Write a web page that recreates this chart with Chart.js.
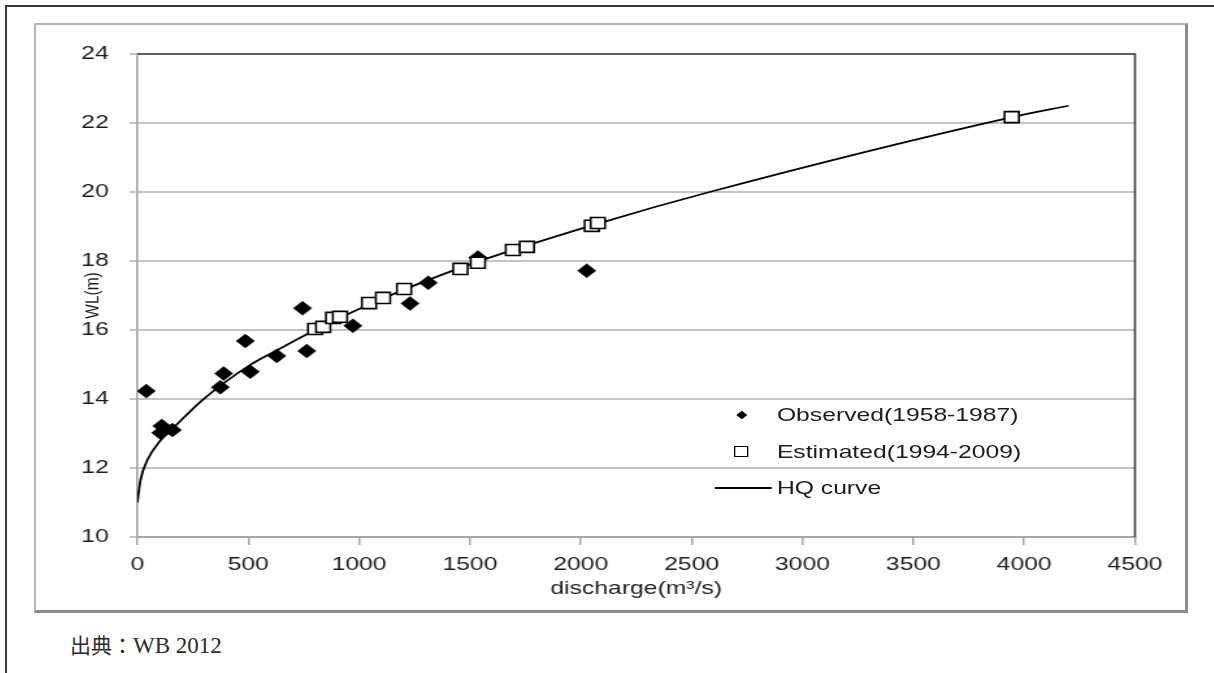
<!DOCTYPE html>
<html>
<head>
<meta charset="utf-8">
<title>HQ curve</title>
<script src="https://cdn.jsdelivr.net/npm/chart.js@4.4.1/dist/chart.umd.min.js"></script>
<style>
  html, body { margin: 0; padding: 0; background: #fff; }
  body { width: 1214px; height: 673px; position: relative; overflow: hidden; font-family: "Liberation Sans", Arial, sans-serif; }
  .page-top { position: absolute; left: 5px; top: 5px; width: 1209px; height: 2px; background: #3a3a3a; }
  .page-left { position: absolute; left: 5px; top: 5px; width: 2px; height: 668px; background: #3a3a3a; }
  .chart-box { position: absolute; left: 34px; top: 23px; width: 1154px; height: 590px; box-sizing: border-box;
    border-left: 2px solid #b4b4b4; border-top: 2px solid #b4b4b4; border-right: 3px solid #8c8c8c; border-bottom: 3px solid #8c8c8c; }
  /* the source picture is stretched sideways, so the chart is drawn narrow and widened */
  .stretch { position: absolute; left: 36px; top: 25px; width: 884px; height: 585px; transform: scaleX(1.2998); transform-origin: 0 0; }
  .stretch canvas { position: absolute; left: 0; top: 0; }
  .lg-text { position: absolute; left: 570px; font-size: 19px; line-height: 22px; color: #1c1c1c; white-space: nowrap; }
  .lg-diamond { position: absolute; left: 540px; top: 387px; width: 6px; height: 6px; background: #000; transform: rotate(45deg); }
  .lg-square { position: absolute; left: 537px; top: 421px; width: 9px; height: 9px; border: 1.5px solid #000; background: #fff; }
  .lg-line { position: absolute; left: 522px; top: 462px; width: 44px; height: 2px; background: #000; }
  .source { position: absolute; left: 70px; top: 632px; font-size: 21px; line-height: 24px; color: #2a2a2a; white-space: nowrap; }
  .source .cjk { font-family: "Noto Sans CJK JP", sans-serif; font-weight: 400; }
  .source .lat { font-family: "Liberation Serif", serif; font-size: 23px; }
</style>
</head>
<body>
<div class="page-top"></div>
<div class="page-left"></div>
<div class="chart-box"></div>
<div class="stretch">
  <canvas id="chartHQ" width="884" height="585"></canvas>
  <div class="lg-diamond"></div>
  <div class="lg-text" style="top:379px">Observed(1958-1987)</div>
  <div class="lg-square"></div>
  <div class="lg-text" style="top:416px">Estimated(1994-2009)</div>
  <div class="lg-line"></div>
  <div class="lg-text" style="top:452px">HQ curve</div>
</div>
<div class="source"><span class="cjk">出典：</span><span class="lat">WB 2012</span></div>

<script>
// observed points, 1958-1987
const obsQ = [40, 105, 110, 158, 374, 389, 487, 509, 629, 745, 764, 972, 1230, 1312, 1536, 2027];
const obsWL = [14.23, 13.02, 13.22, 13.1, 14.34, 14.74, 15.68, 14.79, 15.25, 16.63, 15.39, 16.12, 16.77, 17.37, 18.1, 17.72];

// estimated points, 1994-2009
const estQ = [802, 838, 883, 914, 1045, 1108, 1203, 1457, 1536, 1694, 1757, 2050, 2077, 3944];
const estWL = [16.03, 16.09, 16.35, 16.38, 16.78, 16.93, 17.19, 17.77, 17.95, 18.32, 18.41, 19.02, 19.1, 22.17];

// HQ curve
const hqQ = [0, 14, 45, 104, 162, 293, 509, 631, 802, 1045, 1469, 2086, 2581, 3946, 4200];
const hqWL = [11.0, 11.65, 12.23, 12.8, 13.16, 13.97, 14.99, 15.42, 16.0, 16.74, 17.83, 19.1, 20.0, 22.17, 22.5];

const Q_MIN = 0, Q_MAX = 4500, Q_STEP = 500;
const WL_MIN = 10, WL_MAX = 24, WL_STEP = 2;

(function () {
  const TXT = "#1c1c1c";
  const FONT = "'Liberation Sans', Arial, sans-serif";

  function pts(xs, ys) {
    return xs.map((x, i) => ({ x: x, y: ys[i] }));
  }

  const plotFrame = {
    id: "plotFrame",
    beforeDatasetsDraw(chart) {
      const { ctx, chartArea: a } = chart;
      ctx.save();
      ctx.strokeStyle = "#3c3c3c";
      ctx.lineWidth = 1.6;
      ctx.beginPath();
      ctx.moveTo(a.left, a.top);
      ctx.lineTo(a.right, a.top);
      ctx.lineTo(a.right, a.bottom);
      ctx.stroke();
      ctx.restore();
    },
  };

  new Chart(document.getElementById("chartHQ"), {
    type: "scatter",
    data: {
      datasets: [
        {
          label: "Estimated(1994-2009)",
          data: pts(estQ, estWL),
          pointStyle: "rect",
          pointRadius: 7.8,
          backgroundColor: "#fff",
          borderColor: "#000",
          pointBorderWidth: 1.6,
          order: 0,
        },
        {
          label: "Observed(1958-1987)",
          data: pts(obsQ, obsWL),
          pointStyle: "rectRot",
          pointRadius: 7,
          backgroundColor: "#000",
          borderColor: "#000",
          pointBorderWidth: 0.5,
          order: 1,
        },
        {
          label: "HQ curve",
          data: pts(hqQ, hqWL),
          showLine: true,
          cubicInterpolationMode: "monotone",
          borderColor: "#000",
          borderWidth: 1.8,
          pointRadius: 0,
          order: 2,
        },
      ],
    },
    options: {
      responsive: false,
      animation: false,
      devicePixelRatio: 1,
      layout: { padding: { left: 28, right: 38.5, top: 29, bottom: 7 } },
      plugins: { legend: { display: false }, tooltip: { enabled: false } },
      scales: {
        x: {
          type: "linear",
          min: Q_MIN,
          max: Q_MAX,
          afterFit: (s) => { s.height = 66; },
          grid: { drawOnChartArea: false, drawTicks: true, tickLength: 8, color: "#a6a6a6", lineWidth: 1.5 },
          border: { color: "#a6a6a6", width: 2 },
          ticks: {
            stepSize: Q_STEP, padding: 8, maxRotation: 0, autoSkip: false, color: TXT,
            font: { family: FONT, size: 19 },
            callback: (v) => String(v),
          },
          title: { display: true, text: "discharge(m³/s)", color: TXT, padding: { top: 0, bottom: 3 }, font: { family: FONT, size: 19 } },
        },
        y: {
          min: WL_MIN,
          max: WL_MAX,
          afterFit: (s) => { s.width = 50; },
          grid: { color: "#c4c4c4", lineWidth: 2, tickLength: 6 },
          border: { color: "#a6a6a6", width: 1.6 },
          ticks: { stepSize: WL_STEP, padding: 16, color: TXT, font: { family: FONT, size: 19 }, callback: (v) => String(v) },
          title: { display: true, text: "WL(m)", color: TXT, padding: { top: 6, bottom: 0 }, font: { family: FONT, size: 15.5 } },
        },
      },
    },
    plugins: [plotFrame],
  });
})();
</script>
</body>
</html>
